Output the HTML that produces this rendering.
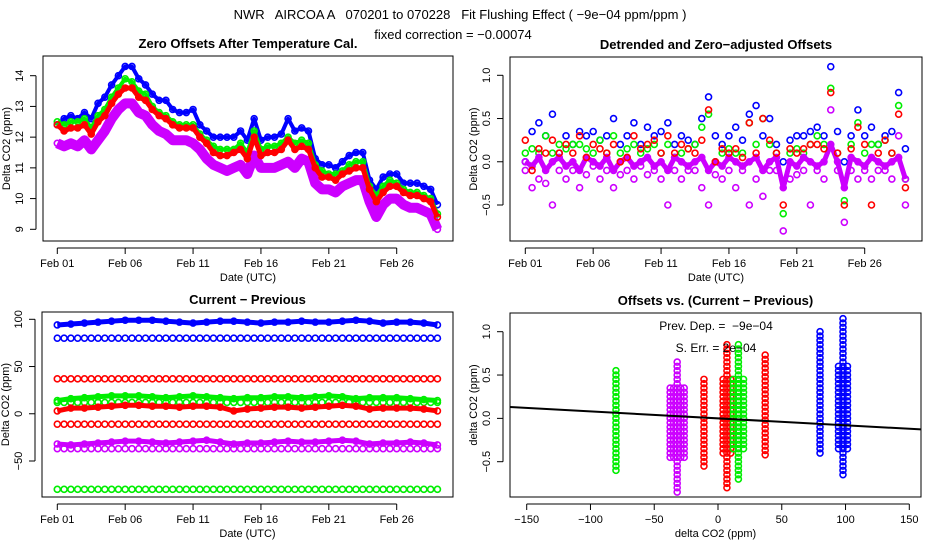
<!DOCTYPE html>
<html><head><meta charset="utf-8">
<style>
body{margin:0;background:#fff;}
svg{display:block;font-family:"Liberation Sans",Arial,sans-serif;}
.tk{font-size:11px;}
.ttl{font-size:13px;font-weight:bold;}
text{white-space:pre;}
</style></head>
<body>
<svg id="chart" width="936" height="540" viewBox="0 0 936 540">
<rect width="936" height="540" fill="#fff"/>
<text x="460" y="19" text-anchor="middle" font-size="13">NWR   AIRCOA A   070201 to 070228   Fit Flushing Effect ( −9e−04 ppm/ppm )</text>
<text x="453" y="39" text-anchor="middle" font-size="13">fixed correction = −0.00074</text>
</svg>
<script>
// ---------- data ----------
const dayLabels = ["Feb 01","Feb 06","Feb 11","Feb 16","Feb 21","Feb 26"];
const dayTicks = [0,5,10,15,20,25];
const tlBlue  = [12.4,12.6,12.7,12.6,12.8,12.6,13.1,13.3,13.7,14.0,14.3,14.3,13.9,13.7,13.4,13.2,13.2,12.9,12.8,12.8,12.9,12.4,12.2,12.0,12.0,12.0,12.0,12.2,11.9,12.6,11.9,12.0,12.0,12.1,12.6,12.2,12.3,12.2,11.3,11.1,11.1,11.0,11.2,11.4,11.5,11.5,10.6,10.3,10.7,10.8,10.8,10.5,10.5,10.5,10.4,10.3,9.8];
const tlGreen = [12.5,12.4,12.5,12.5,12.6,12.3,12.7,12.9,13.3,13.6,13.9,13.8,13.5,13.4,13.0,12.8,12.7,12.5,12.4,12.4,12.4,12.1,11.9,11.7,11.6,11.6,11.6,11.8,11.5,12.2,11.6,11.7,11.7,11.8,12.0,11.8,11.9,11.8,11.1,10.9,10.8,10.8,10.9,11.1,11.2,11.2,10.4,10.1,10.4,10.6,10.5,10.3,10.2,10.2,10.1,10.0,9.5];
const tlRed   = [12.4,12.2,12.3,12.3,12.4,12.1,12.5,12.7,13.1,13.4,13.6,13.6,13.3,13.2,12.9,12.7,12.6,12.4,12.3,12.3,12.3,12.0,11.8,11.5,11.4,11.4,11.5,11.6,11.3,12.0,11.4,11.5,11.5,11.6,11.9,11.6,11.7,11.6,11.0,10.7,10.7,10.6,10.8,10.9,11.0,11.0,10.3,9.9,10.2,10.4,10.4,10.2,10.1,10.1,10.0,9.9,9.4];
const tlPurple= [11.8,11.7,11.8,11.7,11.9,11.6,11.9,12.2,12.6,12.9,13.1,13.1,12.8,12.7,12.4,12.2,12.1,11.9,11.9,11.9,11.8,11.6,11.3,11.1,11.0,10.9,11.0,11.1,10.8,11.4,11.0,11.0,11.0,11.1,11.2,11.0,11.3,11.2,10.5,10.3,10.3,10.2,10.4,10.5,10.6,10.6,9.9,9.4,9.8,10.0,10.0,9.8,9.7,9.7,9.6,9.5,9.0];
const trBlue  = [0.0,0.35,0.45,0.3,0.55,0.1,0.3,0.2,0.35,0.3,0.35,0.25,0.3,0.5,0.2,0.3,0.45,0.2,0.4,0.3,0.35,0.45,0.2,0.3,0.25,0.2,0.5,0.75,0.3,0.2,0.3,0.4,0.25,0.55,0.65,0.3,0.5,0.2,0.0,0.25,0.3,0.3,0.35,0.4,0.3,1.1,0.35,0.0,0.3,0.6,0.3,0.4,0.2,0.3,0.35,0.8,0.15];
const trGreen = [0.1,0.15,0.1,0.3,0.1,0.2,0.15,0.2,0.2,0.15,0.1,0.25,0.1,0.3,0.1,0.15,0.2,0.1,0.15,0.2,0.1,0.2,0.05,0.1,0.15,0.2,0.4,0.55,0.0,0.1,0.15,0.1,0.1,0.45,0.2,0.5,0.2,0.1,-0.6,0.1,0.15,0.1,0.2,0.3,0.2,0.85,0.1,-0.45,0.2,0.45,0.1,0.2,0.2,0.25,0.1,0.65,-0.2];
const trRed   = [0.25,-0.1,0.15,0.1,0.25,0.1,0.2,0.1,0.3,0.05,0.2,0.15,0.1,0.2,0.0,0.05,0.3,0.15,0.2,0.25,0.1,0.3,0.1,0.2,0.15,0.1,0.25,0.6,0.0,0.15,0.1,0.15,0.05,0.45,0.1,0.5,0.25,0.1,-0.5,0.15,0.1,0.15,0.2,0.2,0.15,0.8,0.1,-0.5,0.15,0.4,0.2,-0.5,0.1,0.25,0.1,0.55,-0.3];
const trPurple= [-0.1,-0.3,-0.2,-0.25,-0.5,-0.1,-0.2,-0.1,-0.3,-0.15,-0.05,-0.2,-0.1,-0.3,-0.15,-0.1,-0.2,-0.05,-0.15,-0.1,-0.2,-0.5,-0.1,-0.2,-0.1,-0.1,-0.3,-0.5,-0.15,-0.2,-0.1,-0.3,-0.1,-0.5,-0.2,-0.4,-0.1,-0.1,-0.8,-0.2,-0.15,-0.1,-0.5,-0.1,-0.2,0.6,-0.1,-0.7,-0.1,-0.2,-0.1,-0.2,-0.1,-0.1,-0.2,0.3,-0.5];
const trPurpleMid = [0.0,-0.05,0.05,-0.1,0.0,0.05,-0.05,0.0,-0.1,0.05,0.0,-0.05,0.05,-0.1,0.0,0.05,-0.05,0.0,0.05,-0.05,0.0,-0.1,0.05,0.0,-0.05,0.0,0.05,-0.1,0.0,-0.05,0.05,0.0,-0.05,0.0,0.05,-0.1,0.0,0.05,-0.3,0.0,-0.05,0.05,0.0,-0.05,0.0,0.2,0.0,-0.3,0.05,0.0,-0.05,0.05,0.0,-0.05,0.0,0.05,-0.2];
const blBlue  = [94,95,96,97,98,99,99,99,98,97,96,97,98,98,97,96,97,97,98,97,97,98,99,98,96,97,97,96,94];
const blGreen = [14,16,17,18,19,19,19,18,17,18,19,18,17,16,17,17,18,18,17,18,19,18,16,17,17,17,16,15,14];
const blRed   = [3,6,6,7,8,9,9,8,8,7,8,8,7,3,5,6,7,7,6,7,8,9,8,5,6,6,6,5,3];
const blPurple= [-32,-33,-32,-31,-30,-29,-29,-30,-31,-30,-29,-28,-30,-32,-31,-31,-30,-29,-30,-30,-29,-28,-29,-32,-31,-31,-30,-31,-33];
const blConstVals   = [80,37,12,-11,-37,-80];
const blConstColors = ["#0000ff","#ff0000","#00ee00","#ff0000","#cc00ff","#00ee00"];
const brX     = [-80,-32,-11,7,16,37,80,98];
const brYmin  = [-0.6,-0.85,-0.55,-0.8,-0.7,-0.42,-0.4,-0.65];
const brYmax  = [0.55,0.65,0.45,0.85,0.85,0.75,1.0,1.15];
const brColor = ["#00ee00","#cc00ff","#ff0000","#ff0000","#00ee00","#ff0000","#0000ff","#0000ff"];
const brWidth = [1,11,3,6,8,2,2,7];
const fitSlope = -0.0008, fitIntercept = 0.0;

// ---------- helpers ----------
const NS="http://www.w3.org/2000/svg";
const svg=document.getElementById('chart');
function mk(tag,attrs,parent){const e=document.createElementNS(NS,tag);for(const k in attrs)e.setAttribute(k,attrs[k]);(parent||svg).appendChild(e);return e;}
function lin(d0,d1,p0,p1){return v=>p0+(v-d0)*(p1-p0)/(d1-d0);}

function panel(name,box,title,xs,ys,xt,xl,yt,yl,xlab,ylab){
  const g=mk('g',{});
  
  
  const t=mk('text',{x:(box.l+box.r)/2,y:box.t-8,'text-anchor':'middle',class:'ttl'},g);t.textContent=title;
  
  
  const fr=mk('rect',{x:box.l,y:box.t,width:box.r-box.l,height:box.b-box.t,fill:'none',stroke:'#000'},g);
  
  
  const xa=mk('g',{},g);
  
  
  mk('line',{x1:xs(xt[0]),x2:xs(xt[xt.length-1]),y1:box.b+7,y2:box.b+7,stroke:'#000'},xa);
  xt.forEach((v,i)=>{const x=xs(v);mk('line',{x1:x,x2:x,y1:box.b+7,y2:box.b+13,stroke:'#000'},xa);
    const tx=mk('text',{x:x,y:box.b+26,'text-anchor':'middle',class:'tk'},xa);tx.textContent=xl[i];
    
    });
  const ya=mk('g',{},g);
  
  
  mk('line',{x1:box.l-7,x2:box.l-7,y1:ys(yt[0]),y2:ys(yt[yt.length-1]),stroke:'#000'},ya);
  yt.forEach((v,i)=>{const y=ys(v);mk('line',{x1:box.l-13,x2:box.l-7,y1:y,y2:y,stroke:'#000'},ya);
    const tx=mk('text',{x:box.l-20,y:y,'text-anchor':'middle',class:'tk',transform:`rotate(-90 ${box.l-20} ${y})`},ya);tx.textContent=yl[i];
    
    });
  const xlt=mk('text',{x:(box.l+box.r)/2,y:box.b+40,'text-anchor':'middle',class:'tk'},g);xlt.textContent=xlab;
  
  
  const yx=box.l-33,yy=(box.t+box.b)/2;
  const ylt=mk('text',{x:yx,y:yy,'text-anchor':'middle',class:'tk',transform:`rotate(-90 ${yx} ${yy})`},g);ylt.textContent=ylab;
  
  
  const clip='clip-'+name;
  const cp=mk('clipPath',{id:clip},g);mk('rect',{x:box.l,y:box.t,width:box.r-box.l,height:box.b-box.t},cp);
  const pg=mk('g',{'clip-path':`url(#${clip})`},g);
  
  
  return pg;
}
function series(pg,name,xsArr,vals,xs,ys,color,band){
  const s=mk('g',{},pg);
  
  
  if(band){mk('polyline',{points:vals.map((v,i)=>xs(xsArr[i])+','+ys(v)).join(' '),fill:'none',stroke:color,'stroke-width':band,'stroke-linejoin':'round'},s);}
  vals.forEach((v,i)=>{const c=mk('circle',{cx:xs(xsArr[i]),cy:ys(v),r:3,fill:'none',stroke:color,'stroke-width':1.6},s);
    
    });
}
const halfDays=tlRed.map((_,i)=>i*0.5);
const days=blBlue.map((_,i)=>i);

// ---------- top-left ----------
{const box={l:43,r:453,t:56,b:241};
 const xs=lin(0,25,57.3,396.7), ys=lin(14,9,75.7,229.3);
 const pg=panel('offsets-panel',box,'Zero Offsets After Temperature Cal.',xs,ys,dayTicks,dayLabels,[9,10,11,12,13,14],["9","10","11","12","13","14"],'Date (UTC)','Delta CO2 (ppm)');
 series(pg,'blue-series',halfDays,tlBlue,xs,ys,'#0000ff',4);
 series(pg,'purple-series',halfDays,tlPurple,xs,ys,'#cc00ff',10);
 series(pg,'green-series',halfDays,tlGreen,xs,ys,'#00ee00',4);
 series(pg,'red-series',halfDays,tlRed,xs,ys,'#ff0000',5);}
// ---------- top-right ----------
{const box={l:510,r:922,t:57,b:241};
 const xs=lin(0,25,525.3,864.7), ys=lin(1.0,-0.5,75.3,205);
 const pg=panel('detrended-panel',box,'Detrended and Zero−adjusted Offsets',xs,ys,dayTicks,dayLabels,[-0.5,0,0.5,1.0],["−0.5","0.0","0.5","1.0"],'Date (UTC)','Delta CO2 (ppm)');
 series(pg,'blue-detrended',halfDays,trBlue,xs,ys,'#0000ff',0);
 series(pg,'green-detrended',halfDays,trGreen,xs,ys,'#00ee00',0);
 series(pg,'purple-detrended-mid',halfDays,trPurpleMid,xs,ys,'#cc00ff',5);
 series(pg,'purple-detrended',halfDays,trPurple,xs,ys,'#cc00ff',0);
 series(pg,'red-detrended',halfDays,trRed,xs,ys,'#ff0000',0);}
// ---------- bottom-left ----------
{const box={l:42,r:453,t:312,b:497};
 const xs=lin(0,25,57.3,396.7), ys=lin(100,-50,319.3,461);
 const pg=panel('difference-panel',box,'Current − Previous',xs,ys,dayTicks,dayLabels,[-50,0,50,100],["−50","0","50","100"],'Date (UTC)','Delta CO2 (ppm)');
 blConstVals.forEach((v,k)=>{series(pg,'constant-series-'+k,halfDays,halfDays.map(()=>v),xs,ys,blConstColors[k],0);});
 series(pg,'blue-diff',days,blBlue,xs,ys,'#0000ff',5);
 series(pg,'green-diff',days,blGreen,xs,ys,'#00ee00',5);
 series(pg,'red-diff',days,blRed,xs,ys,'#ff0000',5);
 series(pg,'purple-diff',days,blPurple,xs,ys,'#cc00ff',5);}
// ---------- bottom-right ----------
{const box={l:510,r:921,t:313,b:497};
 const xs=lin(-150,150,526.7,909.3), ys=lin(1.0,-0.5,331.7,461.7);
 const pg=panel('scatter-panel',box,'Offsets vs. (Current − Previous)',xs,ys,[-150,-100,-50,0,50,100,150],["−150","−100","−50","0","50","100","150"],[-0.5,0,0.5,1.0],["−0.5","0.0","0.5","1.0"],'delta CO2 (ppm)','delta CO2 (ppm)');
 brX.forEach((cx,k)=>{const g=mk('g',{},pg);
   
   
   const x=xs(cx),w=(xs(brWidth[k])-xs(0));
   const lo=brYmin[k]*0.55, hi=brYmax[k]*0.55;
   for(let v=brYmin[k];v<=brYmax[k]+1e-9;v+=0.05){
     const inner=(v>lo&&v<hi);
     const n=inner?Math.max(1,Math.round(w/3)):1;
     for(let j=0;j<n;j++){
       const off=n>1?(-w/2+j*w/(n-1)):0;
       const c=mk('circle',{cx:x+off,cy:ys(v),r:3,fill:'none',stroke:brColor[k],'stroke-width':1.6},g);
       
       }
   }
 });
 const fl=mk('line',{x1:xs(-170),y1:ys(fitIntercept+fitSlope*-170),x2:xs(170),y2:ys(fitIntercept+fitSlope*170),stroke:'#000','stroke-width':2},pg);
 
 
 const t1=mk('text',{x:716,y:330,'text-anchor':'middle'});t1.setAttribute('font-size','12');t1.textContent='Prev. Dep. =  −9e−04';
 
 
 const t2=mk('text',{x:716,y:352,'text-anchor':'middle'});t2.setAttribute('font-size','12');t2.textContent='S. Err. = 2e−04';
 
 }
</script>
</body></html>
